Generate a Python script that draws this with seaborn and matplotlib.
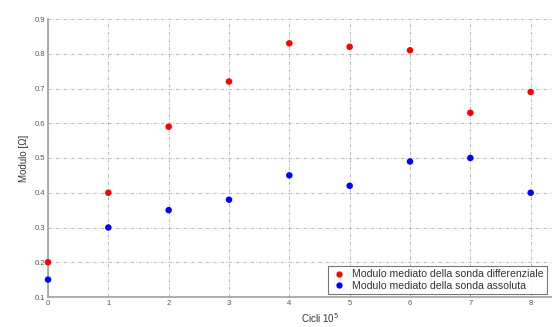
import matplotlib
matplotlib.use("Agg")
import matplotlib.pyplot as plt
import seaborn as sns
import pandas as pd
from matplotlib.lines import Line2D

cicli = [0, 1, 2, 3, 4, 5, 6, 7, 8]
differenziale = [0.20, 0.40, 0.59, 0.72, 0.83, 0.82, 0.81, 0.63, 0.69]
assoluta = [0.15, 0.30, 0.35, 0.38, 0.45, 0.42, 0.49, 0.50, 0.40]
label_diff = "Modulo mediato della sonda differenziale"
label_ass = "Modulo mediato della sonda assoluta"
yticks = [0.1, 0.2, 0.3, 0.4, 0.5, 0.6, 0.7, 0.8, 0.9]

df = pd.DataFrame({
    "Cicli": cicli * 2,
    "Modulo": differenziale + assoluta,
    "Serie": [label_diff] * len(cicli) + [label_ass] * len(cicli),
})

sns.set_style("white")
plt.rcParams['font.family'] = ['Liberation Sans', 'DejaVu Sans']

fig = plt.figure(figsize=(5.52, 3.27), dpi=100)
ax = fig.add_axes([48 / 552, 30 / 327, 543 / 552, 278 / 327])

sns.scatterplot(data=df, x="Cicli", y="Modulo", hue="Serie",
                palette={label_diff: "#ff0000", label_ass: "#0000ff"},
                s=22, edgecolor="none", ax=ax, legend=False, zorder=3,
                clip_on=False)

ax.set_xlim(0, 9)
ax.set_ylim(0.1, 0.9)
ax.set_xticks(cicli)
ax.set_yticks(yticks)
ax.set_xticklabels([str(c) for c in cicli])
ax.set_yticklabels([f"{v:.1f}" for v in yticks])
ax.tick_params(axis="both", labelsize=5.5, colors="#555555", length=2,
               direction="in", pad=2)
ax.grid(True, linestyle=(0, (4, 2, 1, 2)), color="#b0b0b0", linewidth=0.6)

for s in ["top", "right"]:
    ax.spines[s].set_visible(False)
for s in ["left", "bottom"]:
    ax.spines[s].set_color("#a0a0a0")
    ax.spines[s].set_linewidth(1.2)

ax.set_xlabel("Cicli 10$^5$", fontsize=7, color="#333333", labelpad=3)
ax.set_ylabel("Modulo [Ω]", fontsize=7, color="#333333", labelpad=4)

handles = [
    Line2D([], [], marker="o", linestyle="none", color="#ff0000", markersize=3.5),
    Line2D([], [], marker="o", linestyle="none", color="#0000ff", markersize=3.5),
]
leg = fig.legend(handles, [label_diff, label_ass], loc="lower left",
                 bbox_to_anchor=(328 / 552, 33 / 327), fontsize=7.6,
                 frameon=True, fancybox=False, borderpad=0.3,
                 handletextpad=0.5, labelspacing=0.15, handlelength=1.5,
                 borderaxespad=0)
leg.get_frame().set_edgecolor("#555555")
leg.get_frame().set_linewidth(0.8)
for t in leg.get_texts():
    t.set_color("#333333")

fig.savefig("out.png", dpi=100)
